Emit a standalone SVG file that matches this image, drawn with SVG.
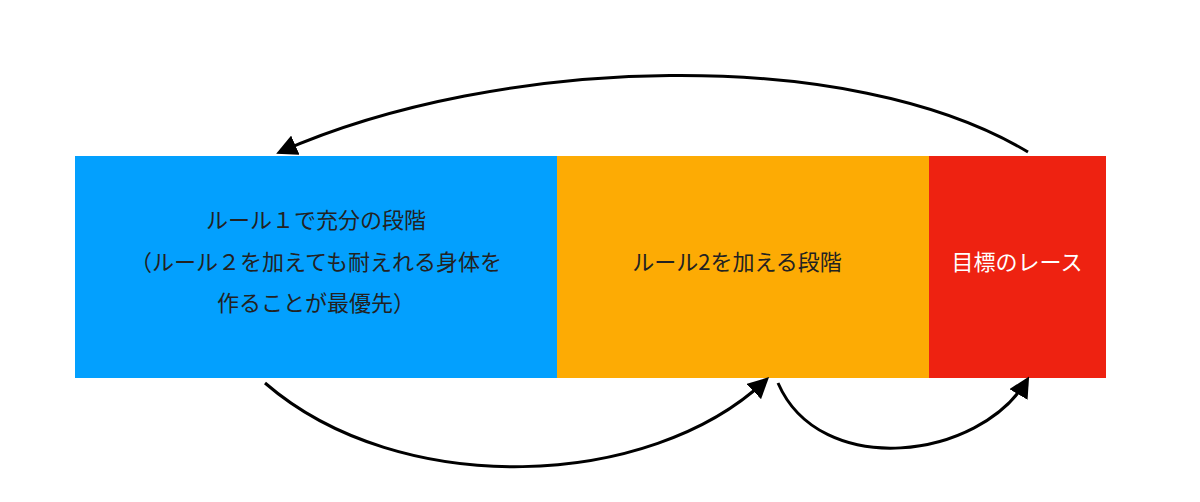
<svg xmlns="http://www.w3.org/2000/svg" width="1200" height="502" viewBox="0 0 1200 502">
<defs>
<marker id="ah" viewBox="0 0 10 10" refX="8" refY="5" markerWidth="7" markerHeight="7" orient="auto" markerUnits="strokeWidth"><path d="M0,0 L10,5 L0,10 z" fill="#000"/></marker>
<style>
.t{font-family:"Noto Sans CJK JP","Noto Sans",sans-serif;font-size:22px;text-anchor:middle;fill:#222}
.c{fill:none;stroke:#000;stroke-width:3;marker-end:url(#ah)}
</style>
</defs>
<rect width="1200" height="502" fill="#fff"/>
<g id="stage1"><rect x="75" y="156" width="483" height="222" fill="#03A0FE"/>
<text class="t" x="316" y="228">ルール１で充分の段階</text>
<text class="t" x="316" y="270">（ルール２を加えても耐えれる身体を</text>
<text class="t" x="316" y="311">作ることが最優先）</text></g>
<g id="stage2"><rect x="557" y="156" width="373" height="222" fill="#FDAB04"/>
<text class="t" x="737" y="270">ルール2を加える段階</text></g>
<g id="race"><rect x="929" y="156" width="177" height="222" fill="#EE2211"/>
<text class="t" x="1017" y="270" style="fill:#fff">目標のレース</text></g>
<g id="connectors">
<path class="c" d="M1028,152 C850,45 500,55 280,152"/>
<path class="c" d="M265,383 C400,500 650,490 766,380"/>
<path class="c" d="M778,383 C820,480 980,460 1027,380"/>
</g>
</svg>
